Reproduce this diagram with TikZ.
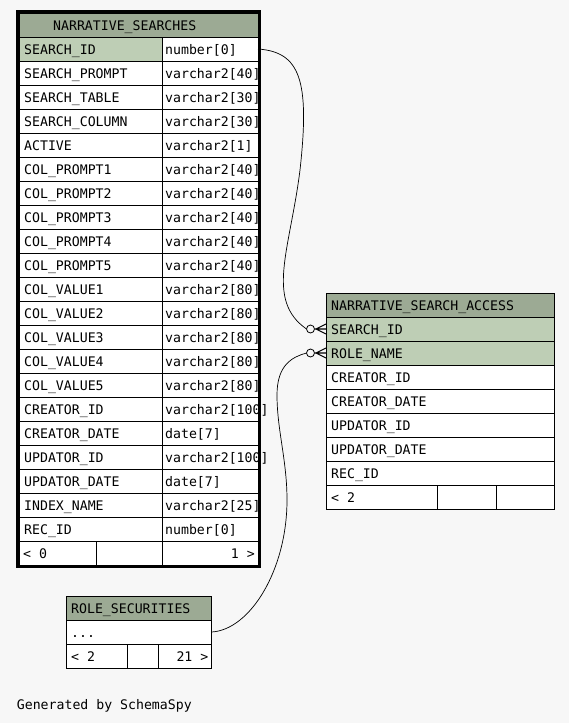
\documentclass[tikz,border=0pt]{standalone}
\usepackage{fontspec}
\setmonofont{DejaVu Sans Mono}
\usetikzlibrary{positioning}
\definecolor{bgcol}{RGB}{247,247,247}
\definecolor{headcol}{RGB}{156,170,148}
\definecolor{keycol}{RGB}{190,206,181}
\newcommand\tabfont{\fontsize{13.2}{14}\selectfont\ttfamily}
\tikzset{
  cell/.style={draw,line width=0.8pt,fill=white,anchor=north west,
    minimum height=24pt,inner sep=0pt,outer sep=0pt},
  txt/.style={font=\tabfont,anchor=base west,inner sep=0pt},
  rtxt/.style={txt,anchor=base east},
  relline/.style={line width=0.7pt},
}
% crow's foot with zero circle, at the west side of a field
\def\crow#1{\draw[line width=1.1pt] (#1) -- ++(-11,0) (#1) ++(0,-5) -- ++(-10,5) -- ++(10,5);
  \draw[line width=0.8pt,fill=bgcol] (#1) ++(-15.5,0) circle(4pt)}

\begin{document}
\begin{tikzpicture}[x=1pt,y=-1pt]
  \fill[bgcol] (0,0) rectangle (569,723);
  \useasboundingbox (0,0) rectangle (569,723);

  % NARRATIVE_SEARCHES
  \node[cell,fill=headcol,minimum width=239pt] (ns-head) at (19,13) {};
  \node[txt] at ([xshift=34pt,yshift=-5pt]ns-head.west) {NARRATIVE\_SEARCHES};
  \node[cell,fill=keycol,minimum width=143pt] (ns-search) at (19,37) {};
  \node[cell,minimum width=96pt] (ns-search-type) at (162,37) {};
  \node[txt] at ([xshift=5pt,yshift=-5pt]ns-search.west) {SEARCH\_ID};
  \node[txt] at ([xshift=3pt,yshift=-5pt]ns-search-type.west) {number[0]};
  \foreach \fname/\ftype [count=\i from 2] in {SEARCH\_PROMPT/varchar2[40],
      SEARCH\_TABLE/varchar2[30], SEARCH\_COLUMN/varchar2[30], ACTIVE/varchar2[1],
      COL\_PROMPT1/varchar2[40], COL\_PROMPT2/varchar2[40], COL\_PROMPT3/varchar2[40],
      COL\_PROMPT4/varchar2[40], COL\_PROMPT5/varchar2[40], COL\_VALUE1/varchar2[80],
      COL\_VALUE2/varchar2[80], COL\_VALUE3/varchar2[80], COL\_VALUE4/varchar2[80],
      COL\_VALUE5/varchar2[80], CREATOR\_ID/varchar2[100], CREATOR\_DATE/date[7],
      UPDATOR\_ID/varchar2[100], UPDATOR\_DATE/date[7], INDEX\_NAME/varchar2[25],
      REC\_ID/number[0]} {
    \node[cell,minimum width=143pt] (ns-name-\i) at (19,{13+24*\i}) {};
    \node[cell,minimum width=96pt] (ns-type-\i) at (162,{13+24*\i}) {};
    \node[txt] at ([xshift=5pt,yshift=-5pt]ns-name-\i.west) {\fname};
    \node[txt] at ([xshift=3pt,yshift=-5pt]ns-type-\i.west) {\ftype};
  }
  \node[cell,minimum width=77pt] (ns-foot-l) at (19,541) {};
  \node[cell,minimum width=66pt] (ns-foot-m) at (96,541) {};
  \node[cell,minimum width=96pt] (ns-foot-r) at (162,541) {};
  \node[txt] at ([xshift=4pt,yshift=-5pt]ns-foot-l.west) {< 0};
  \node[rtxt] at ([xshift=-3pt,yshift=-5pt]ns-foot-r.east) {1 >};
  \draw[line width=3pt] ([shift={(-2,-1.5)}]ns-head.north west)
    rectangle ([shift={(1,1.5)}]ns-foot-r.south east);

  % NARRATIVE_SEARCH_ACCESS
  \node[cell,fill=headcol,minimum width=228pt] (nsa-head) at (326,293) {};
  \node[txt] at ([xshift=5pt,yshift=-5pt]nsa-head.west) {NARRATIVE\_SEARCH\_ACCESS};
  \node[cell,fill=keycol,minimum width=228pt] (nsa-search) at (326,317) {};
  \node[cell,fill=keycol,minimum width=228pt] (nsa-role) at (326,341) {};
  \node[txt] at ([xshift=5pt,yshift=-5pt]nsa-search.west) {SEARCH\_ID};
  \node[txt] at ([xshift=5pt,yshift=-5pt]nsa-role.west) {ROLE\_NAME};
  \foreach \fname [count=\i from 3] in {CREATOR\_ID, CREATOR\_DATE, UPDATOR\_ID,
      UPDATOR\_DATE, REC\_ID} {
    \node[cell,minimum width=228pt] (nsa-name-\i) at (326,{293+24*\i}) {};
    \node[txt] at ([xshift=5pt,yshift=-5pt]nsa-name-\i.west) {\fname};
  }
  \node[cell,minimum width=111pt] (nsa-foot-l) at (326,485) {};
  \node[cell,minimum width=59pt] (nsa-foot-m) at (437,485) {};
  \node[cell,minimum width=58pt] (nsa-foot-r) at (496,485) {};
  \node[txt] at ([xshift=5pt,yshift=-5pt]nsa-foot-l.west) {< 2};

  % ROLE_SECURITIES
  \node[cell,fill=headcol,minimum width=145.5pt] (rs-head) at (66,596) {};
  \node[txt] at ([xshift=5pt,yshift=-5pt]rs-head.west) {ROLE\_SECURITIES};
  \node[cell,minimum width=145.5pt] (rs-more) at (66,620) {};
  \node[txt] at ([xshift=5pt,yshift=-5pt]rs-more.west) {...};
  \node[cell,minimum width=61pt] (rs-foot-l) at (66,644) {};
  \node[cell,minimum width=31pt] (rs-foot-m) at (127,644) {};
  \node[cell,minimum width=53.5pt] (rs-foot-r) at (158,644) {};
  \node[txt] at ([xshift=5pt,yshift=-5pt]rs-foot-l.west) {< 2};
  \node[rtxt] at ([xshift=-3pt,yshift=-5pt]rs-foot-r.east) {21 >};

  % relationships
  \draw[relline] (ns-search-type.east) .. controls (300,52) and (310,80) .. (300,170)
    .. controls (290,250) and (265,300) .. ([xshift=-19.5pt]nsa-search.west);
  \draw[relline] (rs-more.east) .. controls (250,630) and (287,570) .. (287,500)
    .. controls (287,460) and (277,430) .. (277,395)
    .. controls (277,365) and (292,357) .. ([xshift=-19.5pt]nsa-role.west);
  \crow{nsa-search.west};
  \crow{nsa-role.west};

  \node[txt] (credit) at (16.7,709) {Generated by SchemaSpy};
\end{tikzpicture}
\end{document}
